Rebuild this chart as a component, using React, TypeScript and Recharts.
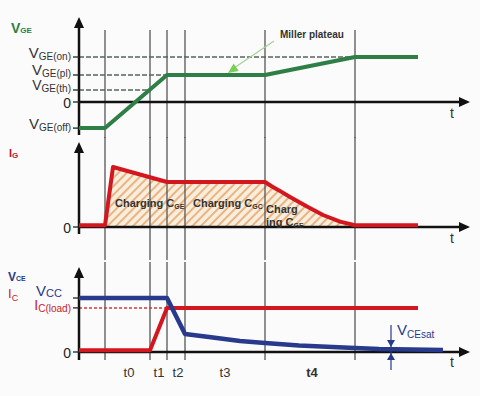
import React from 'react';
import { ComposedChart, Line, Area, XAxis, YAxis, ReferenceLine, ReferenceDot } from 'recharts';

const FONT = '"Liberation Sans", Arial, Helvetica, sans-serif';

// ---- common time axis ----
const T_MAX = 391;
const eventTimes = [26, 71, 88, 106, 186, 276];
const phaseNames = ['t0', 't1', 't2', 't3', 't4'];
const phaseCenters = [50, 80, 99, 146, 233];

// ---- gate-emitter voltage ----
const vgeTimes = [0, 26, 88, 186, 276, 339];
const vgeValues = [-8.7, -8.7, 9, 9, 15, 15];
const vgeTickValues = [15, 9, 4, 0, -8.7];
const vgeTickMain = ['V', 'V', 'V', '0', 'V'];
const vgeTickSub = ['GE(on)', 'GE(pl)', 'GE(th)', '', 'GE(off)'];

// ---- gate current ----
const igTimes = [0, 26, 34, 88, 186, 193, 200, 211, 228, 244, 261, 276, 339];
const igValues = [0.6, 0.6, 20, 15, 15, 13.5, 12.2, 10, 6.8, 4, 1.8, 0.6, 0.6];
const igTickValues = [0];
const chargeStart = 26;
const chargeEnd = 276;

// ---- collector-emitter voltage / collector current ----
const vceTimes = [0, 88, 106, 130, 161, 186, 220, 276, 300, 364];
const vceValues = [18, 18, 6, 5, 3.7, 3, 2.2, 1.3, 1.0, 0.7];
const icTimes = [0, 71, 88, 339];
const icValues = [0.6, 0.6, 14.7, 14.7];
const ceTickValues = [18, 14.7, 0];
const ceTickMain = ['V', 'I', '0'];
const ceTickSub = ['CC', 'C(load)', ''];
const vceSatTime = 312;

const GREEN = '#2e7f45';
const RED = '#d4161f';
const BLUE = '#283a8c';
const DARK = '#333333';

const toRows = (ts: number[], vs: number[]) => ts.map((t, i) => ({ t, v: vs[i] }));

function SubText(p: any) {
  const {
    x, y, main, sub, size = 14, subSize = 10, fill = DARK, weight = 400,
    anchor = 'start', subDy = 3,
  } = p;
  return (
    <text x={x} y={y} fill={fill} fontFamily={FONT} fontSize={size} fontWeight={weight} textAnchor={anchor}>
      <tspan>{main}</tspan>
      {sub ? (
        <tspan fontSize={subSize} dy={subDy}>
          {sub}
        </tspan>
      ) : null}
    </text>
  );
}

const textShape = (opts: any) => (p: any) => (
  <SubText x={p.cx + (opts.dx || 0)} y={p.cy + (opts.dy || 0)} {...opts} />
);

const arrowHead = (angle: number, len = 11, width = 10, fill = '#111') => (p: any) => (
  <polygon
    points={`0,0 ${-len},${-width / 2} ${-len},${width / 2}`}
    transform={`translate(${p.cx},${p.cy}) rotate(${angle})`}
    fill={fill}
  />
);

const makeTick = (values: number[], mains: string[], subs: string[], opts: any[]) => (props: any) => {
  const { x, y, payload } = props;
  const i = values.indexOf(payload.value);
  if (i < 0) return <g />;
  const o = opts[i] || {};
  if (mains[i] === '0') {
    return (
      <text x={x} y={y} dy={5.5} textAnchor="end" fontFamily={FONT} fontSize={14} fill="#222">
        0
      </text>
    );
  }
  return (
    <SubText
      x={x + (o.dx || 0)}
      y={y + (o.dy || 0)}
      main={mains[i]}
      sub={subs[i]}
      size={o.size || 14}
      subSize={o.subSize || 10}
      fill={o.fill || DARK}
      anchor="end"
      subDy={o.subDy || 2}
    />
  );
};

const vgeTick = makeTick(vgeTickValues, vgeTickMain, vgeTickSub, [
  { dy: 0.5, size: 15 }, { dy: 0, size: 15 }, { dy: 0, size: 14, subDy: 1.5 }, {}, { dy: 0.5, size: 15 },
]);
const igTick = makeTick(igTickValues, ['0'], [''], [{}]);
const ceTick = makeTick(ceTickValues, ceTickMain, ceTickSub, [
  { dx: -9, dy: -2, fill: BLUE, size: 15, subSize: 11, subDy: 1 },
  { dy: 2.5, fill: '#c8202a', size: 14, subDy: 2 },
  {},
]);

const axisProps = { stroke: '#111', strokeWidth: 2.5 };
const eventLineProps = { stroke: '#555', strokeWidth: 1.3, ifOverflow: 'visible' as const };

const eventLines = (yTop: number, yBottom: number) =>
  eventTimes.map((t) => (
    <ReferenceLine key={`ev${t}`} segment={[{ x: t, y: yTop }, { x: t, y: yBottom }]} {...eventLineProps} />
  ));

export default function App() {
  const vgeRows = toRows(vgeTimes, vgeValues);
  const igRows = toRows(igTimes, igValues);
  const hatchRows = igRows.filter((r) => r.t >= chargeStart && r.t <= chargeEnd);
  const vceRows = toRows(vceTimes, vceValues);
  const icRows = toRows(icTimes, icValues);

  const yAxisCommon = {
    type: 'number' as const,
    width: 79,
    axisLine: false,
    tickLine: { stroke: '#222', strokeWidth: 1.3 },
    tickSize: 6,
    tickMargin: 2,
    interval: 0 as const,
  };
  const xAxis = <XAxis type="number" dataKey="t" domain={[0, T_MAX]} hide />;

  return (
    <div
      style={{
        position: 'absolute',
        left: 0,
        top: 0,
        width: 480,
        height: 396,
        background: '#fbfbfb',
        fontFamily: FONT,
      }}
    >
      {/* V_GE panel */}
      <div style={{ position: 'absolute', left: 0, top: 0 }}>
        <ComposedChart width={480} height={138} margin={{ top: 0, right: 10, bottom: 0, left: 0 }}>
          {xAxis}
          <YAxis {...yAxisCommon} domain={[-12, 34]} ticks={vgeTickValues} tick={vgeTick} />
          {eventLines(24, -12)}
          <ReferenceLine segment={[{ x: 0, y: 15 }, { x: 276, y: 15 }]} stroke="#56665c" strokeDasharray="5 2" strokeWidth={1.3} />
          <ReferenceLine segment={[{ x: 0, y: 9 }, { x: 88, y: 9 }]} stroke="#56665c" strokeDasharray="5 2" strokeWidth={1.3} />
          <ReferenceLine segment={[{ x: 0, y: 4 }, { x: 71, y: 4 }]} stroke="#56665c" strokeDasharray="5 2" strokeWidth={1.3} />
          <ReferenceLine segment={[{ x: 0, y: -11 }, { x: 0, y: 26 }]} {...axisProps} />
          <ReferenceDot x={0} y={28.33} shape={arrowHead(-90)} />
          <ReferenceLine segment={[{ x: 0, y: 0 }, { x: 381, y: 0 }]} {...axisProps} />
          <ReferenceDot x={391} y={0} shape={arrowHead(0)} />
          <ReferenceLine segment={[{ x: 195, y: 20.33 }, { x: 155, y: 11.3 }]} stroke="#a3d494" strokeWidth={1.2} />
          <ReferenceDot x={149} y={9.67} shape={arrowHead(145, 10, 9, '#7ccc5a')} />
          <Line data={vgeRows} dataKey="v" type="linear" stroke={GREEN} strokeWidth={4} dot={false} isAnimationActive={false} strokeLinejoin="round" />
          <ReferenceDot x={-68} y={23} ifOverflow="visible" shape={textShape({ main: 'V', sub: 'GE', size: 14, subSize: 8, weight: 700, fill: GREEN, subDy: 0 })} />
          <ReferenceDot x={201} y={21.33} shape={textShape({ main: 'Miller plateau', size: 10, weight: 700, fill: DARK })} />
          <ReferenceDot x={373} y={-3.67} shape={textShape({ main: 't', size: 14, fill: DARK, anchor: 'middle', dy: 5 })} />
        </ComposedChart>
      </div>

      {/* I_G panel */}
      <div style={{ position: 'absolute', left: 0, top: 137 }}>
        <ComposedChart width={480} height={123} margin={{ top: 0, right: 10, bottom: 0, left: 0 }}>
          <defs>
            <pattern id="hatch" width="6" height="6" patternUnits="userSpaceOnUse" patternTransform="rotate(45)">
              <rect width="6" height="6" fill="#f6d6a8" fillOpacity="0.35" />
              <line x1="1" y1="0" x2="1" y2="6" stroke="#e2a062" strokeWidth="1.5" />
            </pattern>
          </defs>
          {xAxis}
          <YAxis {...yAxisCommon} domain={[-11, 30]} ticks={igTickValues} tick={igTick} />
          <Area data={hatchRows} dataKey="v" type="linear" baseValue={0} fill="url(#hatch)" fillOpacity={1} stroke="none" isAnimationActive={false} />
          {eventLines(30, -11)}
          <ReferenceLine segment={[{ x: 0, y: -2.33 }, { x: 0, y: 26 }]} {...axisProps} />
          <ReferenceDot x={0} y={28.33} shape={arrowHead(-90)} />
          <ReferenceLine segment={[{ x: 0, y: 0 }, { x: 381, y: 0 }]} {...axisProps} />
          <ReferenceDot x={391} y={0} shape={arrowHead(0)} />
          <Line data={igRows} dataKey="v" type="linear" stroke={RED} strokeWidth={4} dot={false} isAnimationActive={false} strokeLinejoin="round" />
          <ReferenceDot x={-70} y={23.33} ifOverflow="visible" shape={textShape({ main: 'I', sub: 'G', size: 11, subSize: 8, weight: 700, fill: '#b3192b', subDy: 1 })} />
          <ReferenceDot x={36} y={6.67} shape={textShape({ main: 'Charging C', sub: 'GE', size: 11, subSize: 7, weight: 700, fill: DARK, subDy: 2 })} />
          <ReferenceDot x={114} y={6.67} shape={textShape({ main: 'Charging C', sub: 'GC', size: 11, subSize: 7, weight: 700, fill: DARK, subDy: 2 })} />
          <ReferenceDot x={187} y={4.67} shape={textShape({ main: 'Charg', size: 11, weight: 700, fill: DARK })} />
          <ReferenceDot x={187} y={0.33} shape={textShape({ main: 'ing C', sub: 'GE', size: 11, subSize: 7, weight: 700, fill: DARK, subDy: 2 })} />
          <ReferenceDot x={373} y={-3.67} shape={textShape({ main: 't', size: 14, fill: DARK, anchor: 'middle', dy: 5 })} />
        </ComposedChart>
      </div>

      {/* V_CE / I_C panel */}
      <div style={{ position: 'absolute', left: 0, top: 262 }}>
        <ComposedChart width={480} height={134} margin={{ top: 0, right: 10, bottom: 2, left: 0 }}>
          {xAxis}
          <YAxis {...yAxisCommon} domain={[-14, 30]} ticks={ceTickValues} tick={ceTick} />
          {eventLines(30.7, -2.67)}
          <ReferenceLine segment={[{ x: 0, y: 14.7 }, { x: 88, y: 14.7 }]} stroke="#d23a3a" strokeDasharray="3 2" strokeWidth={1.5} />
          <ReferenceLine segment={[{ x: 0, y: -2.67 }, { x: 0, y: 26 }]} {...axisProps} />
          <ReferenceDot x={0} y={28.33} shape={arrowHead(-90)} />
          <ReferenceLine segment={[{ x: 0, y: 0 }, { x: 381, y: 0 }]} {...axisProps} />
          <ReferenceDot x={391} y={0} shape={arrowHead(0)} />
          <Line data={icRows} dataKey="v" type="linear" stroke={RED} strokeWidth={4} dot={false} isAnimationActive={false} strokeLinejoin="round" />
          <Line data={vceRows} dataKey="v" type="linear" stroke={BLUE} strokeWidth={4.5} dot={false} isAnimationActive={false} strokeLinejoin="round" />
          <ReferenceLine segment={[{ x: vceSatTime, y: 9 }, { x: vceSatTime, y: -6 }]} stroke={BLUE} strokeWidth={1.2} />
          <ReferenceDot x={vceSatTime} y={1.67} shape={arrowHead(90, 7, 8, BLUE)} />
          <ReferenceDot x={vceSatTime} y={-0.33} shape={arrowHead(-90, 7, 8, BLUE)} />
          <ReferenceDot x={318} y={5.67} shape={textShape({ main: 'V', sub: 'CEsat', size: 15, subSize: 10, fill: BLUE, subDy: 3 })} />
          <ReferenceDot x={-71} y={23.67} ifOverflow="visible" shape={textShape({ main: 'V', sub: 'CE', size: 12, subSize: 7, weight: 700, fill: BLUE, subDy: 0 })} />
          <ReferenceDot x={-71} y={18} ifOverflow="visible" shape={textShape({ main: 'I', sub: 'C', size: 13, subSize: 9, fill: '#c8202a', subDy: 3 })} />
          {phaseNames.map((name, i) => (
            <ReferenceDot
              key={name}
              x={phaseCenters[i]}
              y={-6.67}
              shape={textShape({ main: name, size: 13, fill: DARK, anchor: 'middle', dy: 5, weight: name === 't4' ? 700 : 400 })}
            />
          ))}
          <ReferenceDot x={373} y={-3.33} shape={textShape({ main: 't', size: 14, fill: DARK, anchor: 'middle', dy: 5 })} />
        </ComposedChart>
      </div>
    </div>
  );
}
